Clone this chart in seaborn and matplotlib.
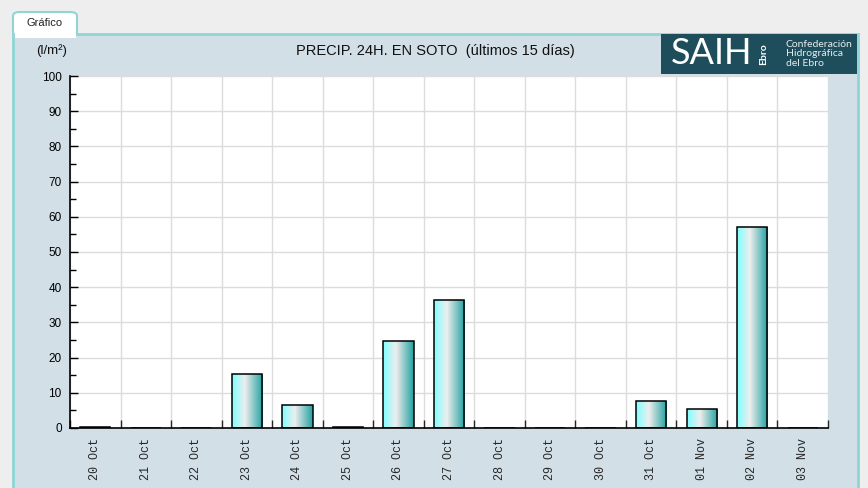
import numpy as np
import pandas as pd
import seaborn as sns
import matplotlib
matplotlib.use('Agg')
import matplotlib.pyplot as plt
from matplotlib.patches import Rectangle, FancyBboxPatch
from matplotlib.ticker import MultipleLocator, FixedLocator

dates = ["20 Oct", "21 Oct", "22 Oct", "23 Oct", "24 Oct", "25 Oct", "26 Oct", "27 Oct",
         "28 Oct", "29 Oct", "30 Oct", "31 Oct", "01 Nov", "02 Nov", "03 Nov"]
precip = [0.3, 0, 0, 15.3, 6.5, 0.3, 24.7, 36.4, 0, 0, 0, 7.7, 5.4, 57.1, 0]

W, H = 868, 488
df = pd.DataFrame({"fecha": dates, "lluvia": precip})

sns.set_style("white")
plt.rcParams['font.family'] = ['Liberation Sans', 'DejaVu Sans']

fig = plt.figure(figsize=(W / 100, H / 100), dpi=100)
fig.patch.set_facecolor("#eeeeee")


def fx(x):
    return x / W


def fy(y):
    return 1 - y / H


border = "#8fd5d5"
panel_bg = "#d2dfe7"

# panel and tab
fig.patches.append(Rectangle((fx(13), fy(500)), fx(858) - fx(13), fy(34) - fy(500),
                             transform=fig.transFigure, facecolor=panel_bg,
                             edgecolor=border, linewidth=2, zorder=-3))
fig.patches.append(FancyBboxPatch((fx(13), fy(36)), fx(77) - fx(13), fy(12) - fy(36),
                                  boxstyle="round,pad=0,rounding_size=0.008",
                                  transform=fig.transFigure, facecolor="white",
                                  edgecolor=border, linewidth=1.5, zorder=-2))
fig.patches.append(Rectangle((fx(14.5), fy(38)), fx(75.5) - fx(14.5), fy(33) - fy(38),
                             transform=fig.transFigure, facecolor="white",
                             edgecolor="none", zorder=-1))
fig.text(fx(45), fy(23), "Gráfico", ha="center", va="center", fontsize=8, color="#222222")

# logo
fig.patches.append(Rectangle((fx(661), fy(74)), fx(857) - fx(661), fy(34) - fy(74),
                             transform=fig.transFigure, facecolor="#1e4d5c",
                             edgecolor="none", zorder=-1))
fig.text(fx(671), fy(54), "SAIH", ha="left", va="center", fontsize=26, color="white",
         family=["Lato", "DejaVu Sans"], zorder=3)
fig.text(fx(764), fy(54), "Ebro", ha="center", va="center", fontsize=7.5, color="white",
         rotation=90, fontweight="bold", family=["Lato", "DejaVu Sans"], zorder=3)
fig.text(fx(786), fy(54), "Confederación\nHidrográfica\ndel Ebro", ha="left", va="center",
         fontsize=7.5, color="#e6eef0", linespacing=1.05, family=["Lato", "DejaVu Sans"], zorder=3)

fig.text(fx(52), fy(51), "(l/m²)", ha="center", va="center", fontsize=9.5, color="#111111")
fig.text(fx(435), fy(51), "PRECIP. 24H. EN SOTO  (últimos 15 días)", ha="center", va="center",
         fontsize=10.5, color="#111111")

ax = fig.add_axes([fx(70), fy(428), fx(828) - fx(70), fy(76) - fy(428)])
ax.set_zorder(5)
ax.set_facecolor("white")
sns.barplot(data=df, x="fecha", y="lluvia", ax=ax, width=0.6, color="#5fd0d0",
            edgecolor="black", linewidth=1.1)

# gradient fill inside each bar
stops = np.array([[0.50, 1.00, 1.00], [0.93, 0.93, 0.93], [0.13, 0.63, 0.63]])
pos = np.array([0.0, 0.42, 1.0])
t = np.linspace(0, 1, 128)
grad = np.stack([np.interp(t, pos, stops[:, c]) for c in range(3)], axis=-1)[None, :, :]
for p in ax.patches:
    x0, y0 = p.get_x(), p.get_y()
    w, h = p.get_width(), p.get_height()
    if h <= 0:
        continue
    im = ax.imshow(grad, extent=(x0, x0 + w, y0, y0 + h), aspect="auto", zorder=2.5,
                   interpolation="bilinear")
    im.set_clip_path(p)
    p.set_facecolor("none")
    p.set_zorder(3)

ax.set_xlim(-0.5, len(dates) - 0.5)
ax.set_ylim(0, 100)
ax.set_xlabel("")
ax.set_ylabel("")

ax.yaxis.set_major_locator(MultipleLocator(10))
ax.yaxis.set_minor_locator(MultipleLocator(5))
ax.xaxis.set_minor_locator(FixedLocator(np.arange(-0.5, len(dates), 1.0)))
ax.set_axisbelow(True)
ax.grid(which="major", axis="y", color="#dcdcdc", linewidth=1)
ax.grid(which="minor", axis="x", color="#dcdcdc", linewidth=1)

ax.tick_params(axis="y", which="both", direction="in", left=True, length=6, width=1,
               labelsize=8.5, pad=6, colors="black")
ax.tick_params(axis="y", which="minor", length=4)
ax.tick_params(axis="x", which="major", length=0, pad=7)
ax.tick_params(axis="x", which="minor", direction="in", bottom=True, length=6, width=1)
for lbl in ax.get_xticklabels():
    lbl.set_rotation(90)
    lbl.set_family(["Liberation Mono", "DejaVu Sans Mono"])
    lbl.set_fontsize(8.5)

for s in ["top", "right"]:
    ax.spines[s].set_visible(False)
for s in ["left", "bottom"]:
    ax.spines[s].set_color("black")
    ax.spines[s].set_linewidth(1.2)

fig.savefig("out.png", dpi=100, facecolor=fig.get_facecolor())
